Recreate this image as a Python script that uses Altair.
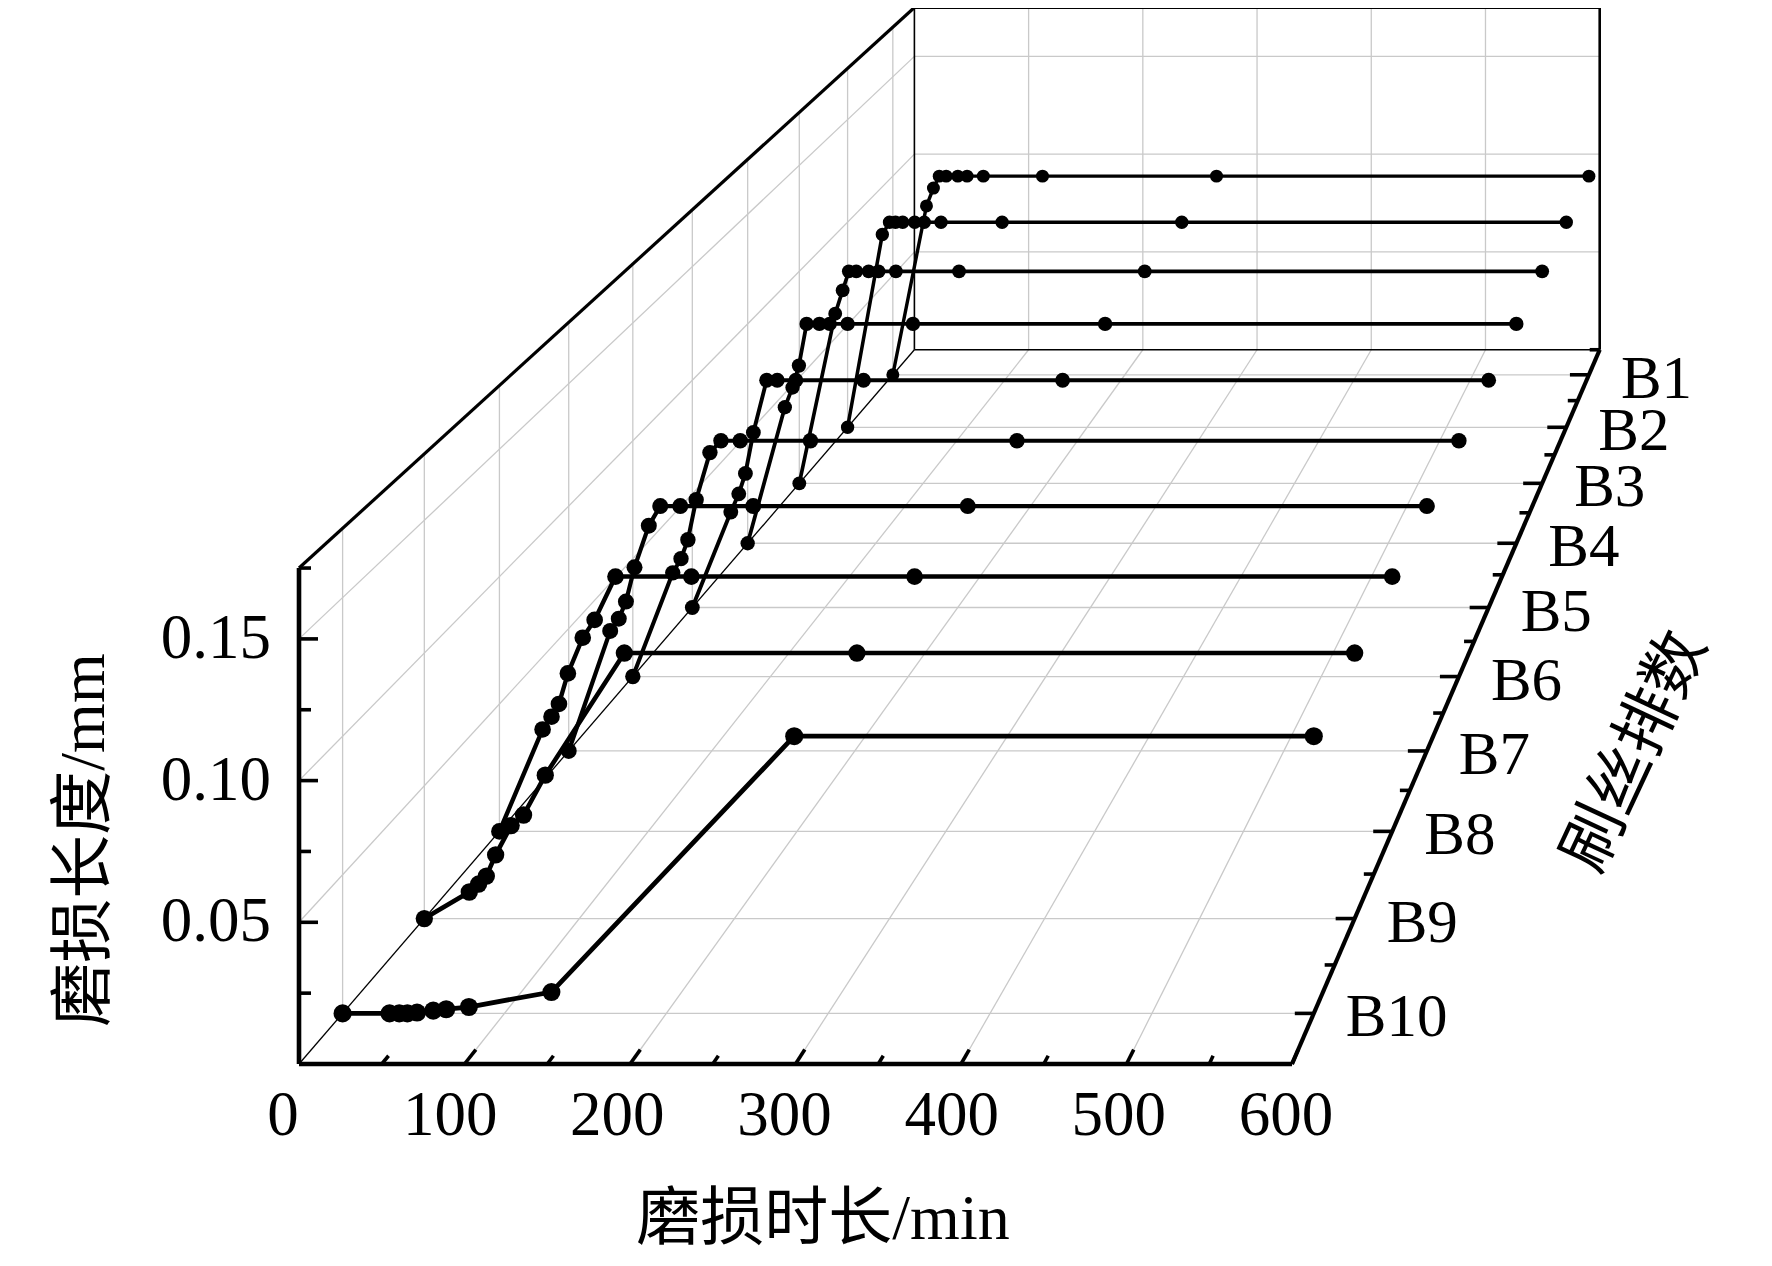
import altair as alt
import pandas as pd

# ---------------- data ----------------
times = [0, 29, 35, 40, 46, 56, 64, 78, 129, 279, 600]          # 磨损时长 / min
rows = ["B1", "B2", "B3", "B4", "B5", "B6", "B7", "B8", "B9", "B10"]
wear_B1 = [0, 0.085, 0.094, 0.100, 0.100, 0.100, 0.100, 0.100, 0.100, 0.100, 0.100]
wear_B2 = [0, 0.094, 0.100, 0.100, 0.100, 0.100, 0.100, 0.100, 0.100, 0.100, 0.100]
wear_B3 = [0, 0.080, 0.091, 0.100, 0.100, 0.100, 0.100, 0.100, 0.100, 0.100, 0.100]
wear_B4 = [0, 0.062, 0.071, 0.081, 0.100, 0.100, 0.100, 0.100, 0.100, 0.100, 0.100]
wear_B5 = [0, 0.042, 0.050, 0.059, 0.077, 0.100, 0.100, 0.100, 0.100, 0.100, 0.100]
wear_B6 = [0, 0.044, 0.050, 0.058, 0.075, 0.095, 0.100, 0.100, 0.100, 0.100, 0.100]
wear_B7 = [0, 0.049, 0.054, 0.061, 0.075, 0.092, 0.100, 0.100, 0.100, 0.100, 0.100]
wear_B8 = [0, 0.040, 0.045, 0.050, 0.062, 0.076, 0.083, 0.100, 0.100, 0.100, 0.100]
wear_B9 = [0, 0.010, 0.013, 0.016, 0.024, 0.035, 0.039, 0.054, 0.100, 0.100, 0.100]
wear_B10 = [0, 0.000, 0.000, 0.000, 0.0003, 0.001, 0.0015, 0.0023, 0.0077, 0.100, 0.100]
series = [wear_B1, wear_B2, wear_B3, wear_B4, wear_B5,
          wear_B6, wear_B7, wear_B8, wear_B9, wear_B10]

t_max = 600
z_max = 0.175
x_tick_major = [100, 200, 300, 400, 500, 600]
x_tick_minor = [50, 150, 250, 350, 450, 550]
x_label_vals = [0, 100, 200, 300, 400, 500, 600]
x_labels = ["0", "100", "200", "300", "400", "500", "600"]
z_tick_major = [0.05, 0.10, 0.15]
z_tick_minor = [0.025, 0.075, 0.125, 0.175]
z_labels = ["0.05", "0.10", "0.15"]
x_grid = [100, 200, 300, 400, 500]
z_grid = [0.05, 0.10, 0.15]
depth_minor = [0.1, 0.2, 0.3, 0.4, 0.5, 0.6, 0.7, 0.8, 0.9, 1.0]

title_z = "磨损长度/mm"
title_x = "磨损时长/min"
title_d = "刷丝排数"

# ---------------- perspective projection (layout constants) ----------------
W, H = 1756, 1244
VX, VY = 2285.0, -1241.0     # vanishing point (page px)
FX, FY = 299.0, 1064.0       # front-left-bottom corner (page px)
SX = 1.655                   # px per minute on the front plane
SZ = 2834.0                  # px per mm on the front plane
K = 0.449                    # depth foreshortening


def s_expr(w):
    return f"(1/(1+{K}*({w})))"


def x_expr(t, w):
    return f"({VX}+({FX}+{SX}*({t})-{VX})*{s_expr(w)})"


def y_expr(z, w):
    return f"({VY}+({FY}-{SZ}*({z})-({VY}))*{s_expr(w)})"


def row_depth(i):
    return 1 - (i + 0.5) / 10.0


xs = alt.Scale(domain=[8, 8 + W], nice=False, zero=False)
ys = alt.Scale(domain=[8, 8 + H], reverse=True, nice=False, zero=False)

# ---------------- data series table ----------------
recs = []
for i, (r, vals) in enumerate(zip(rows, series)):
    for t, z in zip(times, vals):
        recs.append({"row": r, "t": t, "z": z, "w": row_depth(i)})
df = pd.DataFrame(recs)

# ---------------- segments: grid, box edges, ticks ----------------
GRID = "#c9c9c9"
segs = []


def seg(a, b, col, sw, lay):
    segs.append({"t1": a[0], "z1": a[1], "w1": a[2],
                 "t2": b[0], "z2": b[1], "w2": b[2],
                 "col": col, "sw": sw, "lay": lay})


for t in x_grid:
    seg((t, 0, 1), (t, z_max, 1), GRID, 1.3, "back")     # back wall verticals
    seg((t, 0, 0), (t, 0, 1), GRID, 1.3, "back")         # floor depth lines
for z in z_grid:
    seg((0, z, 1), (t_max, z, 1), GRID, 1.3, "back")     # back wall horizontals
    seg((0, z, 0), (0, z, 1), GRID, 1.3, "back")         # left wall diagonals
for i in range(len(rows)):
    w = row_depth(i)
    seg((0, 0, w), (0, z_max, w), GRID, 1.3, "back")     # left wall verticals
    seg((0, 0, w), (t_max, 0, w), GRID, 1.3, "back")     # floor row lines

# thin box edges
seg((0, 0, 0), (0, 0, 1), "black", 1.3, "back")
seg((0, 0, 1), (0, z_max, 1), "black", 1.6, "back")
seg((0, 0, 1), (t_max, 0, 1), "black", 1.6, "back")
seg((t_max, 0, 1), (t_max, z_max, 1), "black", 2.6, "back")
seg((0, z_max, 1), (t_max, z_max, 1), "black", 3.2, "back")
seg((0, z_max, 0), (0, z_max, 1), "black", 3.2, "back")

# thick axes
seg((0, 0, 0), (0, z_max, 0), "black", 4.6, "front")
seg((0, 0, 0), (t_max, 0, 0), "black", 4.6, "front")
seg((t_max, 0, 0), (t_max, 0, 1), "black", 4.2, "front")

# ticks
for z in z_tick_major:
    seg((0, z, 0), (19 / SX, z, 0), "black", 3.6, "front")
for z in z_tick_minor:
    seg((0, z, 0), (12 / SX, z, 0), "black", 3.6, "front")
for t in x_tick_major:
    seg((t, 0, 0), (t, 0, 0.014), "black", 3.6, "front")
for t in x_tick_minor:
    seg((t, 0, 0), (t, 0, 0.008), "black", 3.6, "front")
for i in range(len(rows)):
    w = row_depth(i)
    seg((t_max, 0, w), (t_max - 19 * (1 + K * w) / SX, 0, w), "black", 3.6, "front")
for w in depth_minor:
    seg((t_max, 0, w), (t_max - 10 * (1 + K * w) / SX, 0, w), "black", 3.6, "front")

seg_df = pd.DataFrame(segs)


def seg_layer(lay):
    return alt.Chart(seg_df).transform_filter(
        alt.datum.lay == lay
    ).transform_calculate(
        px1=x_expr("datum.t1", "datum.w1"),
        py1=y_expr("datum.z1", "datum.w1"),
        px2=x_expr("datum.t2", "datum.w2"),
        py2=y_expr("datum.z2", "datum.w2"),
    ).mark_rule().encode(
        x=alt.X("px1:Q", scale=xs, axis=None),
        y=alt.Y("py1:Q", scale=ys, axis=None),
        x2="px2:Q",
        y2="py2:Q",
        color=alt.Color("col:N", scale=None),
        strokeWidth=alt.StrokeWidth("sw:Q", scale=None),
    )


back = seg_layer("back")
front = seg_layer("front")

base = alt.Chart(df).transform_calculate(
    px=x_expr("datum.t", "datum.w"),
    py=y_expr("datum.z", "datum.w"),
    sc=s_expr("datum.w"),
).transform_calculate(
    msize="pow(18.5*datum.sc, 2)",
    lw="4.9*datum.sc",
)

lines = base.mark_line(color="black").encode(
    x=alt.X("px:Q", scale=xs, axis=None),
    y=alt.Y("py:Q", scale=ys, axis=None),
    detail="row:N",
    order=alt.Order("t:Q"),
    strokeWidth=alt.StrokeWidth("lw:Q", scale=None),
)
points = base.mark_circle(color="black", opacity=1).encode(
    x=alt.X("px:Q", scale=xs, axis=None),
    y=alt.Y("py:Q", scale=ys, axis=None),
    size=alt.Size("msize:Q", scale=None),
)

NUMFONT = "Liberation Serif"
CJKFONT = "Liberation Serif, Noto Sans CJK SC"

zlab_df = pd.DataFrame({"z": z_tick_major, "lab": z_labels})
zlab = alt.Chart(zlab_df).transform_calculate(
    px=x_expr("0", "0"), py=y_expr("datum.z", "0")
).mark_text(font=NUMFONT, fontSize=63, align="right", baseline="middle", dx=-28, dy=0).encode(
    x=alt.X("px:Q", scale=xs, axis=None),
    y=alt.Y("py:Q", scale=ys, axis=None),
    text="lab:N",
)

xlab_df = pd.DataFrame({"t": x_label_vals, "lab": x_labels})
xlab = alt.Chart(xlab_df).transform_calculate(
    px=x_expr("datum.t", "0") + "-16+10*datum.t/600", py=y_expr("0", "0")
).mark_text(font=NUMFONT, fontSize=63, align="center", baseline="middle", dy=52).encode(
    x=alt.X("px:Q", scale=xs, axis=None),
    y=alt.Y("py:Q", scale=ys, axis=None),
    text="lab:N",
)

rlab_df = pd.DataFrame({"lab": rows, "w": [row_depth(i) for i in range(len(rows))]})
rlab = alt.Chart(rlab_df).transform_calculate(
    px=x_expr(str(t_max), "datum.w"), py=y_expr("0", "datum.w")
).mark_text(font=NUMFONT, fontSize=61, align="left", baseline="middle", dx=32, dy=5).encode(
    x=alt.X("px:Q", scale=xs, axis=None),
    y=alt.Y("py:Q", scale=ys, axis=None),
    text="lab:N",
)

tz = alt.Chart(pd.DataFrame({"lab": [title_z]})).mark_text(
    font=CJKFONT, fontSize=64, angle=270, align="center", baseline="middle"
).encode(x=alt.value(85 - 8), y=alt.value(840 - 8), text="lab:N")

tx = alt.Chart(pd.DataFrame({"lab": [title_x]})).mark_text(
    font=CJKFONT, fontSize=64, align="center", baseline="middle"
).encode(x=alt.value(823 - 8), y=alt.value(1220 - 8), text="lab:N")

td = alt.Chart(pd.DataFrame({"lab": [title_d]})).mark_text(
    font=CJKFONT, fontSize=64, angle=295, align="center", baseline="middle"
).encode(x=alt.value(1636 - 8), y=alt.value(752 - 8), text="lab:N")

chart = alt.layer(back, lines, points, front, zlab, xlab, rlab, tz, tx, td).properties(
    width=W, height=H, padding=0,
    autosize=alt.AutoSizeParams(type="none"),
    background="white",
).configure_view(stroke=None)

chart.save("out.html", embed_options={"renderer": "svg", "actions": False})
